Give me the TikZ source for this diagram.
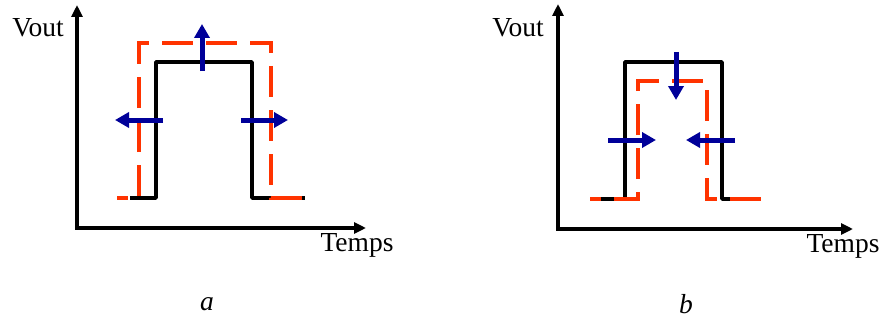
\documentclass[tikz,border=0pt]{standalone}
\usepackage{fontspec}
\setmainfont{Liberation Serif}
\usetikzlibrary{arrows.meta}
\definecolor{navy}{RGB}{0,0,153}
\definecolor{pulsered}{RGB}{255,51,0}
\begin{document}
\begin{tikzpicture}[x=1pt,y=-1pt,
  axis/.style={line width=4pt, line join=miter, {Triangle[length=12pt,width=11pt]}-{Triangle[length=12pt,width=11pt]}},
  pulse/.style={line width=3.5pt, line join=round},
  shifted/.style={line width=3.3pt, draw=pulsered, dash pattern=on 31pt off 13pt, dash phase=20pt},
  move/.style={line width=5pt, draw=navy, -{Triangle[length=14pt,width=15pt]}},
  lbl/.style={font=\fontsize{27.5}{32}\selectfont, inner sep=0pt}]
\useasboundingbox (0,0) rectangle (883,321);
% ---------- panel a ----------
\coordinate (ay) at (77,5);
\coordinate (ao) at (77,228);
\coordinate (ax) at (366,228);
\draw[axis] (ay) -- (ao) -- (ax);
\node[lbl] (vouta) at (38,28) {Vout};
\node[lbl] (tempsa) at (357,245) {Temps};
\node[lbl] (capa) at (207,304) {\textit{a}};
\draw[pulse] (130,198) -- (156,198) -- (156,62) -- (252,62) -- (252,198) -- (305,198);
\draw[shifted] (117,198) -- (139,198) -- (139,43) -- (271,43) -- (271,198) -- (305,198);
\coordinate (aup0) at (202,71);   \coordinate (aup1) at (202,24);
\coordinate (alf0) at (163,120);  \coordinate (alf1) at (115,120);
\coordinate (art0) at (241,120);  \coordinate (art1) at (288,120);
\draw[move] (aup0) -- (aup1);
\draw[move] (alf0) -- (alf1);
\draw[move] (art0) -- (art1);
% ---------- panel b ----------
\coordinate (by) at (558,4);
\coordinate (bo) at (558,229);
\coordinate (bx) at (853,229);
\draw[axis] (by) -- (bo) -- (bx);
\node[lbl] (voutb) at (518,28) {Vout};
\node[lbl] (tempsb) at (843,246) {Temps};
\node[lbl] (capb) at (686,304) {\textit{b}};
\draw[pulse] (601,199) -- (625,199) -- (625,62) -- (722,62) -- (722,199) -- (752,199);
\draw[shifted] (590,199) -- (638,199) -- (638,81) -- (707,81) -- (707,199) -- (772,199);
\coordinate (bdn0) at (676,52);   \coordinate (bdn1) at (676,100);
\coordinate (brt0) at (608,140);  \coordinate (brt1) at (656,140);
\coordinate (blf0) at (735,140);  \coordinate (blf1) at (686,140);
\draw[move] (bdn0) -- (bdn1);
\draw[move] (brt0) -- (brt1);
\draw[move] (blf0) -- (blf1);
\end{tikzpicture}
\end{document}
